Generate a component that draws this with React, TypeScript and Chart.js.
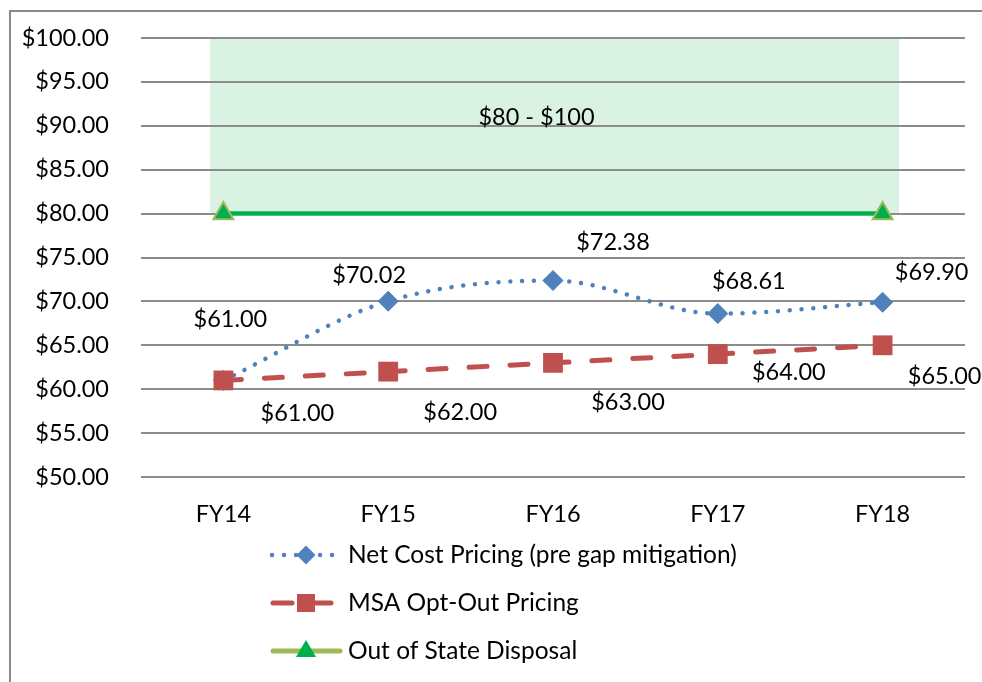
import React, { useEffect, useRef } from 'react';
import { Chart, registerables } from 'chart.js';

Chart.register(...registerables);

// ---------- data ----------
const categories = ['FY14', 'FY15', 'FY16', 'FY17', 'FY18'];
const netCostPricing = [61.0, 70.02, 72.38, 68.61, 69.9];
const msaOptOutPricing = [61.0, 62.0, 63.0, 64.0, 65.0];
const outOfStateDisposal: (number | null)[] = [80, null, null, null, 80];
const seriesNames = [
  'Net Cost Pricing (pre gap mitigation)',
  'MSA Opt-Out Pricing',
  'Out of State Disposal',
];
const yMin = 50;
const yMax = 100;
const yStep = 5;
const bandRange = [80, 100];
const bandLabel = '$80 - $100';

// ---------- styles ----------
const FONT = 'Lato, "Noto Sans", sans-serif';
const FONT_SIZE = 23.5;
const LEGEND_FONT_SIZE = 24.5;
const BLUE = '#4F81BD';
const RED = '#C0504D';
const GREEN = '#00B050';
const OLIVE = '#9BBB59';
const BAND = '#DAF2E2';
const GRID = '#8c8c8c';
// band extent in category-index units, label anchor (index, value)
const bandIndexRange = [-0.08, 4.1];
const bandLabelAnchor = [1.9, 91];
// label offsets in px relative to the point
const netLabelOffsets = [[7, -61], [-19, -26], [60, -38], [31, -32], [49, -30]];
const msaLabelOffsets = [[74, 33], [72, 41], [75, 40], [71, 18], [62, 31]];

const fmt = (v: number) => '$' + v.toFixed(2);

const customPlugin = {
  id: 'customDecor',
  beforeDraw(chart: any) {
    const { ctx } = chart;
    const x = chart.scales.x;
    const y = chart.scales.y;
    ctx.save();
    ctx.fillStyle = '#fff';
    ctx.fillRect(0, 0, chart.width, chart.height);
    // outer border (top + left visible)
    ctx.strokeStyle = '#8a8a8a';
    ctx.lineWidth = 2;
    ctx.beginPath();
    ctx.moveTo(10, chart.height + 5);
    ctx.lineTo(10, 11);
    ctx.lineTo(chart.width + 5, 11);
    ctx.stroke();
    // band
    const p0 = x.getPixelForValue(0);
    const step = x.getPixelForValue(1) - p0;
    const left = p0 + bandIndexRange[0] * step;
    const right = p0 + bandIndexRange[1] * step;
    const top = y.getPixelForValue(bandRange[1]);
    const bottom = y.getPixelForValue(bandRange[0]);
    ctx.fillStyle = BAND;
    ctx.fillRect(left, top, right - left, bottom - top);
    ctx.restore();
  },
  afterDatasetsDraw(chart: any) {
    const { ctx } = chart;
    const x = chart.scales.x;
    const y = chart.scales.y;
    ctx.save();
    ctx.font = `${FONT_SIZE}px ${FONT}`;
    ctx.fillStyle = '#000';
    ctx.textAlign = 'center';
    ctx.textBaseline = 'middle';
    const p0 = x.getPixelForValue(0);
    const step = x.getPixelForValue(1) - p0;
    ctx.fillText(bandLabel, p0 + bandLabelAnchor[0] * step, y.getPixelForValue(bandLabelAnchor[1]));
    const metaNet = chart.getDatasetMeta(0);
    metaNet.data.forEach((pt: any, i: number) => {
      ctx.fillText(fmt(netCostPricing[i]), pt.x + netLabelOffsets[i][0], pt.y + netLabelOffsets[i][1]);
    });
    const metaMsa = chart.getDatasetMeta(1);
    metaMsa.data.forEach((pt: any, i: number) => {
      ctx.fillText(fmt(msaOptOutPricing[i]), pt.x + msaLabelOffsets[i][0], pt.y + msaLabelOffsets[i][1]);
    });
    ctx.restore();
  },
  afterDraw(chart: any) {
    const { ctx } = chart;
    ctx.save();
    const rows = [555, 603, 651];
    const lx0 = 271;
    const mx = 306;
    const tx = 348;
    // row 1: dotted blue + diamond
    let yy = rows[0];
    ctx.strokeStyle = BLUE;
    ctx.lineWidth = 4.5;
    ctx.lineCap = 'round';
    ctx.setLineDash([0.01, 12]);
    ctx.beginPath();
    ctx.moveTo(lx0 + 1, yy);
    ctx.lineTo(334, yy);
    ctx.stroke();
    ctx.setLineDash([]);
    ctx.fillStyle = BLUE;
    ctx.beginPath();
    ctx.moveTo(mx, yy - 9.5);
    ctx.lineTo(mx + 9.5, yy);
    ctx.lineTo(mx, yy + 9.5);
    ctx.lineTo(mx - 9.5, yy);
    ctx.closePath();
    ctx.fill();
    // row 2: dashed red + square
    yy = rows[1];
    ctx.strokeStyle = RED;
    ctx.lineWidth = 5;
    ctx.lineCap = 'round';
    ctx.beginPath();
    ctx.moveTo(lx0 + 2, yy);
    ctx.lineTo(292, yy);
    ctx.moveTo(312, yy);
    ctx.lineTo(331, yy);
    ctx.stroke();
    ctx.fillStyle = RED;
    ctx.fillRect(mx - 9, yy - 9, 18, 18);
    // row 3: olive line + green triangle
    yy = rows[2];
    ctx.strokeStyle = OLIVE;
    ctx.lineWidth = 5;
    ctx.lineCap = 'round';
    ctx.beginPath();
    ctx.moveTo(lx0 + 2, yy);
    ctx.lineTo(340, yy);
    ctx.stroke();
    ctx.fillStyle = GREEN;
    ctx.beginPath();
    ctx.moveTo(mx, yy - 11);
    ctx.lineTo(mx + 10, yy + 6);
    ctx.lineTo(mx - 10, yy + 6);
    ctx.closePath();
    ctx.fill();
    // texts
    ctx.font = `${LEGEND_FONT_SIZE}px ${FONT}`;
    ctx.fillStyle = '#000';
    ctx.textAlign = 'left';
    ctx.textBaseline = 'middle';
    seriesNames.forEach((n, i) => ctx.fillText(n, tx, rows[i]));
    ctx.restore();
  },
};

export default function App() {
  const ref = useRef<HTMLCanvasElement | null>(null);
  useEffect(() => {
    document.body.style.margin = '0';
    if (!ref.current) return;
    const chart = new Chart(ref.current, {
      type: 'line',
      data: {
        labels: categories,
        datasets: [
          {
            label: seriesNames[0],
            data: netCostPricing,
            borderColor: BLUE,
            backgroundColor: BLUE,
            borderWidth: 4.5,
            borderDash: [0.01, 11.8],
            borderCapStyle: 'round',
            pointStyle: 'rectRot',
            pointRadius: 10,
            pointBorderWidth: 1,
            pointBackgroundColor: BLUE,
            pointBorderColor: BLUE,
            tension: 0.35,
            cubicInterpolationMode: 'monotone',
            fill: false,
            order: 2,
          },
          {
            label: seriesNames[1],
            data: msaOptOutPricing,
            borderColor: RED,
            backgroundColor: RED,
            borderWidth: 5,
            borderDash: [18, 23],
            borderCapStyle: 'round',
            pointStyle: 'rect',
            pointRadius: 14,
            pointBorderWidth: 0,
            pointBackgroundColor: RED,
            tension: 0,
            fill: false,
            order: 1,
          },
          {
            label: seriesNames[2],
            data: outOfStateDisposal,
            borderColor: GREEN,
            backgroundColor: GREEN,
            borderWidth: 4.5,
            spanGaps: true,
            pointStyle: 'triangle',
            pointRadius: 11.5,
            pointBorderWidth: 2,
            pointBackgroundColor: GREEN,
            pointBorderColor: OLIVE,
            tension: 0,
            fill: false,
            order: 3,
          },
        ],
      } as any,
      options: {
        animation: false,
        responsive: false,
        maintainAspectRatio: false,
        events: [],
        layout: { padding: { left: 0, right: 17, top: 38, bottom: 145 } },
        plugins: {
          legend: { display: false },
          tooltip: { enabled: false },
          title: { display: false },
        },
        scales: {
          x: {
            type: 'category',
            offset: true,
            grid: { display: false, drawTicks: false },
            border: { display: false },
            ticks: {
              color: '#000',
              padding: 23,
              font: { family: FONT, size: FONT_SIZE },
              maxRotation: 0,
              autoSkip: false,
            },
            afterFit: (s: any) => {
              s.height = 60;
              s.paddingLeft = 0;
              s.paddingRight = 0;
            },
          },
          y: {
            min: yMin,
            max: yMax,
            grid: { color: GRID, lineWidth: 2, drawTicks: false },
            border: { display: false },
            ticks: {
              stepSize: yStep,
              color: '#000',
              padding: 32,
              font: { family: FONT, size: FONT_SIZE },
              callback: (v: any) => fmt(Number(v)),
            },
            afterFit: (s: any) => {
              s.width = 141;
              s.paddingTop = 0;
              s.paddingBottom = 0;
            },
          },
        },
      } as any,
      plugins: [customPlugin],
    });
    return () => chart.destroy();
  }, []);
  return (
    <div style={{ position: 'fixed', left: 0, top: 0, width: 982, height: 682 }}>
      <canvas ref={ref} width={982} height={682} style={{ width: 982, height: 682, display: 'block' }} />
    </div>
  );
}
